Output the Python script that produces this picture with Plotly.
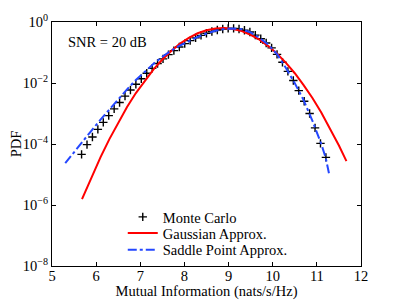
import plotly.graph_objects as go

# ---- data ----
mc_x = [5.670, 5.793, 5.916, 6.039, 6.162, 6.285, 6.408, 6.531, 6.654, 6.777,
        6.900, 7.023, 7.146, 7.269, 7.392, 7.515, 7.638, 7.761, 7.884, 8.007,
        8.130, 8.253, 8.376, 8.499, 8.622, 8.745, 8.868, 8.991, 9.114, 9.237,
        9.360, 9.483, 9.606, 9.729, 9.852, 9.975, 10.098, 10.221, 10.344, 10.467,
        10.590, 10.713, 10.836, 10.959, 11.082, 11.205]
mc_log10_pdf = [-4.34, -4.02, -3.77, -3.52, -3.29, -3.07, -2.85, -2.64, -2.43, -2.23,
                -2.04, -1.86, -1.68, -1.52, -1.36, -1.21, -1.07, -0.94, -0.82, -0.71,
                -0.61, -0.52, -0.44, -0.37, -0.31, -0.26, -0.23, -0.21, -0.21, -0.23,
                -0.27, -0.33, -0.43, -0.55, -0.69, -0.85, -1.06, -1.32, -1.62, -1.92,
                -2.25, -2.60, -3.00, -3.47, -3.98, -4.44]

gauss_x = [5.68, 5.9, 6.1, 6.3, 6.5, 6.7, 6.9, 7.1, 7.3, 7.5, 7.7, 7.9, 8.1, 8.3,
           8.5, 8.7, 8.9, 9.1, 9.3, 9.5, 9.7, 9.9, 10.1, 10.3, 10.5, 10.7, 10.9,
           11.1, 11.3, 11.5, 11.67]
gauss_log10_pdf = [-5.81, -5.06, -4.43, -3.84, -3.29, -2.79, -2.33, -1.92, -1.55,
                   -1.23, -0.95, -0.71, -0.52, -0.37, -0.27, -0.21, -0.20, -0.23,
                   -0.30, -0.42, -0.58, -0.79, -1.04, -1.34, -1.68, -2.07, -2.49,
                   -2.97, -3.49, -4.05, -4.56]

saddle_x = [5.30, 5.50, 5.70, 5.90, 6.10, 6.30, 6.50, 6.70, 6.90, 7.10, 7.30, 7.50,
            7.70, 7.90, 8.10, 8.30, 8.50, 8.70, 8.90, 9.10, 9.30, 9.50, 9.70, 9.90,
            10.10, 10.30, 10.50, 10.70, 10.90, 11.10, 11.20, 11.28]
saddle_log10_pdf = [-4.63, -4.26, -3.90, -3.55, -3.20, -2.86, -2.53, -2.21, -1.90,
                    -1.63, -1.37, -1.14, -0.94, -0.77, -0.62, -0.49, -0.38, -0.29,
                    -0.23, -0.21, -0.24, -0.34, -0.52, -0.74, -1.06, -1.51, -2.01,
                    -2.56, -3.24, -4.00, -4.45, -5.00]

x_ticks = [5, 6, 7, 8, 9, 10, 11, 12]
y_tick_exps = [0, -2, -4, -6, -8]

series_names = ["Monte Carlo", "Gaussian Approx.", "Saddle Point Approx."]

def to_pdf(vals):
    return [10 ** v for v in vals]

FONT = "Liberation Serif"
FS = 14.5

fig = go.Figure()
fig.add_trace(go.Scatter(
    x=mc_x, y=to_pdf(mc_log10_pdf), mode="markers", name=series_names[0],
    legend="legend",
    marker=dict(symbol="cross-thin", size=6, color="black",
                line=dict(width=1.4, color="black"))))
fig.add_trace(go.Scatter(
    x=gauss_x, y=to_pdf(gauss_log10_pdf), mode="lines", name=series_names[1],
    legend="legend2",
    line=dict(color="#ff0000", width=2)))
fig.add_trace(go.Scatter(
    x=saddle_x, y=to_pdf(saddle_log10_pdf), mode="lines", name=series_names[2],
    legend="legend3",
    line=dict(color="#2447ff", width=2, dash="dashdot")))

leg_common = dict(x=0.229, xanchor="left", yanchor="middle",
                  bgcolor="rgba(0,0,0,0)", font=dict(size=FS, family=FONT),
                  itemwidth=30)

# The page body adds an 8px margin, so the figure is drawn 8px smaller
# and the top/left margins are reduced by the same amount.
fig.update_layout(
    width=391, height=292,
    margin=dict(l=44, r=37.5, t=14, b=34),
    paper_bgcolor="white", plot_bgcolor="white",
    font=dict(family=FONT, size=FS, color="black"),
    showlegend=True,
    legend=dict(y=0.201, **leg_common),
    legend2=dict(y=0.135, **leg_common),
    legend3=dict(y=0.066, **leg_common),
    annotations=[dict(text="SNR = 20 dB", xref="paper", yref="paper",
                      x=0.045, y=0.918, xanchor="left", yanchor="middle",
                      showarrow=False, font=dict(size=FS, family=FONT))],
)
fig.update_xaxes(
    range=[5, 12], tickvals=x_ticks, ticktext=[str(t) for t in x_ticks],
    showgrid=False, zeroline=False, showline=True, linecolor="black", linewidth=1,
    mirror="ticks", ticks="inside", ticklen=4, tickcolor="black",
    tickfont=dict(size=FS, family=FONT), automargin=False, ticklabelstandoff=-3,
    title=dict(text="Mutual Information (nats/s/Hz)", font=dict(size=FS, family=FONT)))
fig.update_yaxes(
    type="log", range=[-8, 0],
    tickvals=[10 ** e for e in y_tick_exps],
    ticktext=["10<sup>%s</sup>" % (str(e).replace("-", "\u2212")) for e in y_tick_exps],
    showgrid=False, zeroline=False, showline=True, linecolor="black", linewidth=1,
    mirror="ticks", ticks="inside", ticklen=4, tickcolor="black",
    tickfont=dict(size=FS, family=FONT), automargin=False,
    title=dict(text="PDF", font=dict(size=FS, family=FONT)))

fig.write_html("out.html")
